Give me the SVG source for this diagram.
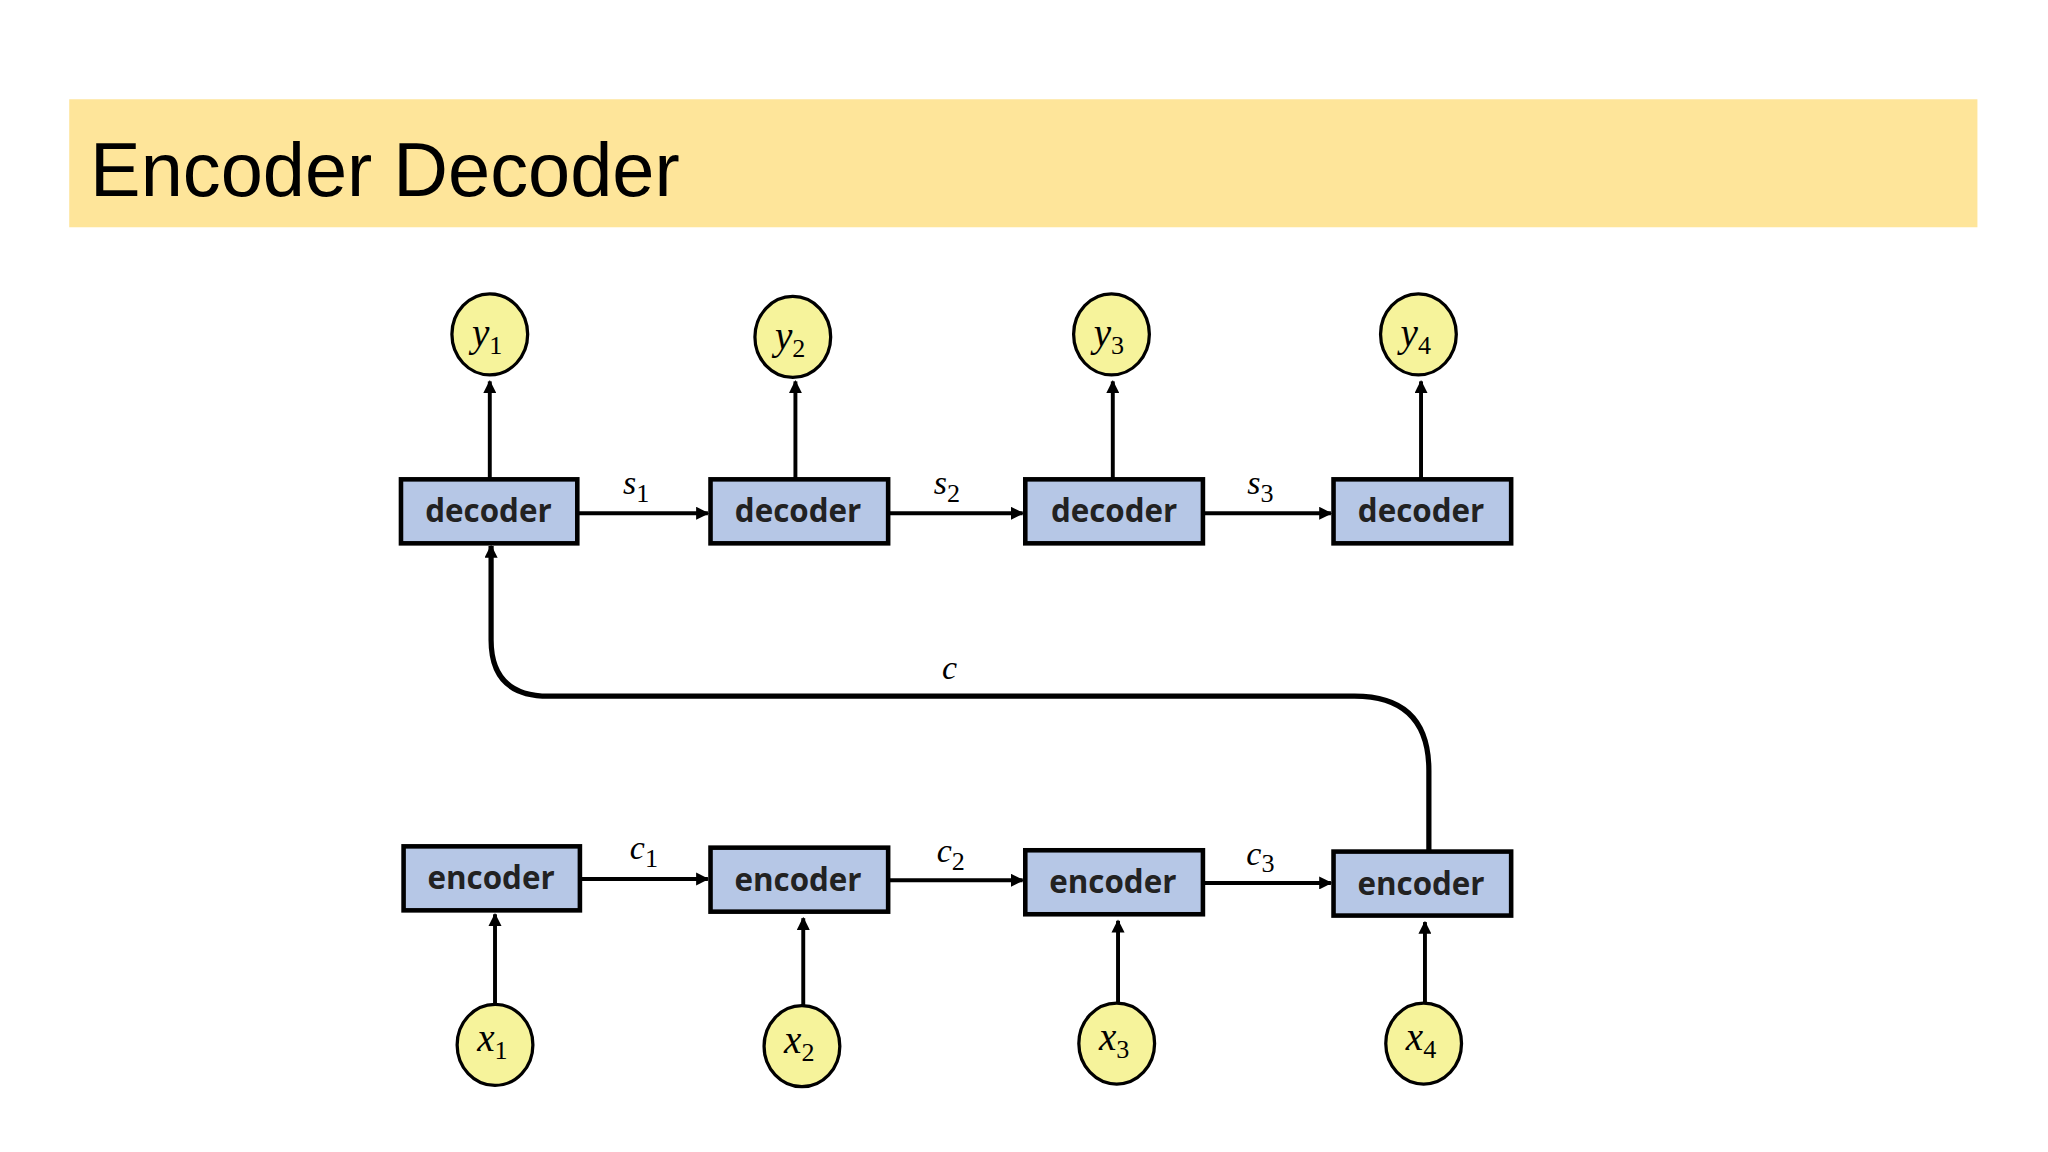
<svg xmlns="http://www.w3.org/2000/svg" width="2048" height="1152" viewBox="0 0 2048 1152">
<defs>
<marker id="ah" markerWidth="10" markerHeight="10" refX="9" refY="5" orient="auto" markerUnits="userSpaceOnUse"><path d="M0,0 L10,5 L0,10 Z" fill="#000"/></marker>
<style>
.box{fill:#b6c7e6;stroke:#000;stroke-width:3.5}
.cir{fill:#f6f39b;stroke:#000;stroke-width:2.5}
.bl{font-family:"Open Sans","Liberation Sans",sans-serif;font-weight:bold;font-size:24px;fill:#222;text-anchor:middle}
.m{font-family:"Liberation Serif",serif;font-style:italic;font-size:30px;fill:#000;text-anchor:middle}
.ml{font-family:"Liberation Serif",serif;font-style:italic;font-size:26px;fill:#000;text-anchor:middle}
.sub{font-style:normal;font-size:20px}
.ln{fill:none;stroke:#000;stroke-width:3;marker-end:url(#ah)}
</style>
</defs>
<rect width="2048" height="1152" fill="#fff"/>
<g transform="scale(1.3061)">
<g id="header"><rect x="53" y="76" width="1461" height="98" fill="#fee59a"/>
<text x="69" y="150" font-family="Liberation Sans,Arial,sans-serif" font-size="58" fill="#000">Encoder Decoder</text></g>
<g id="connectors">
<path class="ln" d="M375,366 V292"/><path class="ln" d="M609,366 V292"/><path class="ln" d="M852,366 V292"/><path class="ln" d="M1088,366 V292"/>
<path class="ln" d="M443,393 H542"/><path class="ln" d="M681,393 H783"/><path class="ln" d="M922,393 H1019"/>
<path class="ln" d="M445,673 H542"/><path class="ln" d="M681,674 H783"/><path class="ln" d="M922,676 H1019"/>
<path class="ln" d="M379,770 V700"/><path class="ln" d="M615,770 V703"/><path class="ln" d="M856,768 V705"/><path class="ln" d="M1091,768 V706"/>
<path class="ln" style="stroke-width:4" d="M1094,651 V590 Q1094,533 1037,533 H420 Q376,533 376,490 V418"/>
<text class="ml" x="487" y="378">s<tspan class="sub" dy="6">1</tspan></text>
<text class="ml" x="725" y="378">s<tspan class="sub" dy="6">2</tspan></text>
<text class="ml" x="965" y="378">s<tspan class="sub" dy="6">3</tspan></text>
<text class="ml" x="493" y="658">c<tspan class="sub" dy="6">1</tspan></text>
<text class="ml" x="728" y="660">c<tspan class="sub" dy="6">2</tspan></text>
<text class="ml" x="965" y="662">c<tspan class="sub" dy="6">3</tspan></text>
<text class="ml" x="727" y="520">c</text>
</g>
<g id="dec1"><rect class="box" x="307" y="367" width="135" height="49"/><text class="bl" x="374" y="400">decoder</text></g>
<g id="dec2"><rect class="box" x="544" y="367" width="136" height="49"/><text class="bl" x="611" y="400">decoder</text></g>
<g id="dec3"><rect class="box" x="785" y="367" width="136" height="49"/><text class="bl" x="853" y="400">decoder</text></g>
<g id="dec4"><rect class="box" x="1021" y="367" width="136" height="49"/><text class="bl" x="1088" y="400">decoder</text></g>
<g id="enc1"><rect class="box" x="309" y="648" width="135" height="49"/><text class="bl" x="376" y="681">encoder</text></g>
<g id="enc2"><rect class="box" x="544" y="649" width="136" height="49"/><text class="bl" x="611" y="682">encoder</text></g>
<g id="enc3"><rect class="box" x="785" y="651" width="136" height="49"/><text class="bl" x="852" y="684">encoder</text></g>
<g id="enc4"><rect class="box" x="1021" y="652" width="136" height="49"/><text class="bl" x="1088" y="685">encoder</text></g>
<g id="y1"><ellipse class="cir" cx="375" cy="256" rx="29" ry="31"/><text class="m" x="373" y="265">y<tspan class="sub" dy="6">1</tspan></text></g>
<g id="y2"><ellipse class="cir" cx="607" cy="258" rx="29" ry="31"/><text class="m" x="605" y="267">y<tspan class="sub" dy="6">2</tspan></text></g>
<g id="y3"><ellipse class="cir" cx="851" cy="256" rx="29" ry="31"/><text class="m" x="849" y="265">y<tspan class="sub" dy="6">3</tspan></text></g>
<g id="y4"><ellipse class="cir" cx="1086" cy="256" rx="29" ry="31"/><text class="m" x="1084" y="265">y<tspan class="sub" dy="6">4</tspan></text></g>
<g id="x1"><ellipse class="cir" cx="379" cy="800" rx="29" ry="31"/><text class="m" x="377" y="805">x<tspan class="sub" dy="6">1</tspan></text></g>
<g id="x2"><ellipse class="cir" cx="614" cy="801" rx="29" ry="31"/><text class="m" x="612" y="806">x<tspan class="sub" dy="6">2</tspan></text></g>
<g id="x3"><ellipse class="cir" cx="855" cy="799" rx="29" ry="31"/><text class="m" x="853" y="804">x<tspan class="sub" dy="6">3</tspan></text></g>
<g id="x4"><ellipse class="cir" cx="1090" cy="799" rx="29" ry="31"/><text class="m" x="1088" y="804">x<tspan class="sub" dy="6">4</tspan></text></g>
</g>
</svg>
